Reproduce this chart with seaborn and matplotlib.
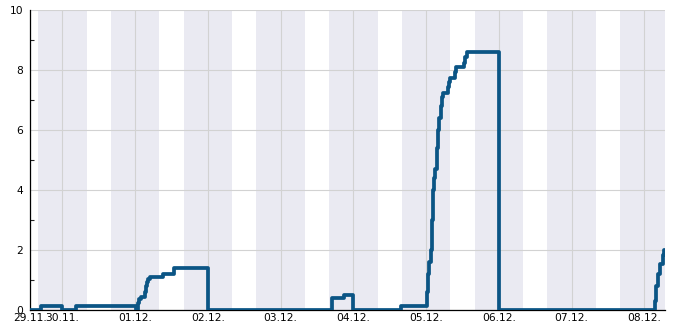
import matplotlib
matplotlib.use("Agg")
import matplotlib.pyplot as plt
import seaborn as sns
import pandas as pd

# ---- data ----
times = [
    "2023-11-29 13:20", "2023-11-29 17:00", "2023-11-30 00:00", "2023-11-30 04:40",
    "2023-12-01 00:10", "2023-12-01 00:50", "2023-12-01 01:20", "2023-12-01 01:50",
    "2023-12-01 03:25", "2023-12-01 03:45", "2023-12-01 04:05", "2023-12-01 04:25",
    "2023-12-01 04:55", "2023-12-01 09:15", "2023-12-01 12:50", "2023-12-02 00:05",
    "2023-12-03 16:50", "2023-12-03 20:55", "2023-12-04 00:00", "2023-12-04 15:35",
    "2023-12-05 00:25", "2023-12-05 00:45", "2023-12-05 01:05", "2023-12-05 01:30",
    "2023-12-05 01:55", "2023-12-05 02:20", "2023-12-05 02:45", "2023-12-05 03:05",
    "2023-12-05 03:30", "2023-12-05 03:55", "2023-12-05 04:25", "2023-12-05 04:55",
    "2023-12-05 05:20", "2023-12-05 05:45", "2023-12-05 07:05", "2023-12-05 07:30",
    "2023-12-05 07:55", "2023-12-05 09:25", "2023-12-05 09:45", "2023-12-05 12:35",
    "2023-12-05 13:00", "2023-12-05 13:30", "2023-12-06 00:00", "2023-12-08 03:30",
    "2023-12-08 04:00", "2023-12-08 04:30", "2023-12-08 05:20", "2023-12-08 06:05",
    "2023-12-08 06:40", "2023-12-08 06:50",
]
values = [
    0.0, 0.12, 0.0, 0.12,
    0.0, 0.25, 0.38, 0.45,
    0.6, 0.8, 0.95, 1.05,
    1.1, 1.2, 1.4, 0.0,
    0.4, 0.5, 0.0, 0.12,
    0.6, 1.2, 1.6, 2.0,
    3.0, 4.0, 4.4, 4.7,
    5.4, 6.0, 6.4, 6.8,
    7.1, 7.25, 7.45, 7.6,
    7.72, 7.95, 8.1, 8.25,
    8.45, 8.6, 0.0, 0.3,
    0.8, 1.2, 1.55, 1.85,
    2.0, 2.0,
]
day_ticks = ["2023-11-29 13:20", "2023-11-30 00:00", "2023-12-01 00:00", "2023-12-02 00:00",
             "2023-12-03 00:00", "2023-12-04 00:00", "2023-12-05 00:00", "2023-12-06 00:00",
             "2023-12-07 00:00", "2023-12-08 00:00"]
tick_labels = ["29.11.", "30.11.", "01.12.", "02.12.", "03.12.",
               "04.12.", "05.12.", "06.12.", "07.12.", "08.12."]
night_starts = ["2023-11-29 16:00", "2023-11-30 16:00", "2023-12-01 16:00", "2023-12-02 16:00",
                "2023-12-03 16:00", "2023-12-04 16:00", "2023-12-05 16:00", "2023-12-06 16:00",
                "2023-12-07 16:00"]
night_hours = 16
x_range = ("2023-11-29 13:20", "2023-12-08 06:50")

df = pd.DataFrame({"time": pd.to_datetime(times, format="%Y-%m-%d %H:%M"), "value": values})

sns.set_style("white")
plt.rcParams["font.family"] = ["DejaVu Sans"]

fig = plt.figure(figsize=(6.85, 3.3), dpi=100)
ax = fig.add_axes([30 / 685, 20 / 330, 635 / 685, 300 / 330])

for s in night_starts:
    st = pd.Timestamp(s)
    ax.axvspan(st, st + pd.Timedelta(hours=night_hours), color="#eaeaf2", lw=0, zorder=0)

sns.lineplot(data=df, x="time", y="value", ax=ax, color="#0b5585", lw=2.7,
             drawstyle="steps-post", zorder=3)

ax.set_xlim(pd.Timestamp(x_range[0]), pd.Timestamp(x_range[1]))
ax.set_ylim(0, 10)
ax.set_xticks(pd.to_datetime(day_ticks, format="%Y-%m-%d %H:%M"))
ax.set_xticklabels(tick_labels)
ax.set_yticks([0, 2, 4, 6, 8, 10])
ax.set_yticks([1, 3, 5, 7, 9], minor=True)
ax.set_xlabel("")
ax.set_ylabel("")

ax.grid(True, which="major", color="#d2d2d2", lw=0.8, zorder=1)
ax.set_axisbelow(True)
ax.tick_params(axis="both", which="major", direction="in", length=4.5, width=0.8,
               labelsize=7.7, colors="black")
ax.tick_params(axis="y", which="major", pad=5)
ax.tick_params(axis="x", which="major", pad=2.5)
ax.tick_params(axis="y", which="minor", direction="in", length=3, width=0.8, left=True)

for side in ["top", "right"]:
    ax.spines[side].set_visible(False)
for side in ["left", "bottom"]:
    ax.spines[side].set_color("black")
    ax.spines[side].set_linewidth(0.9)

fig.savefig("out.png", dpi=100)
